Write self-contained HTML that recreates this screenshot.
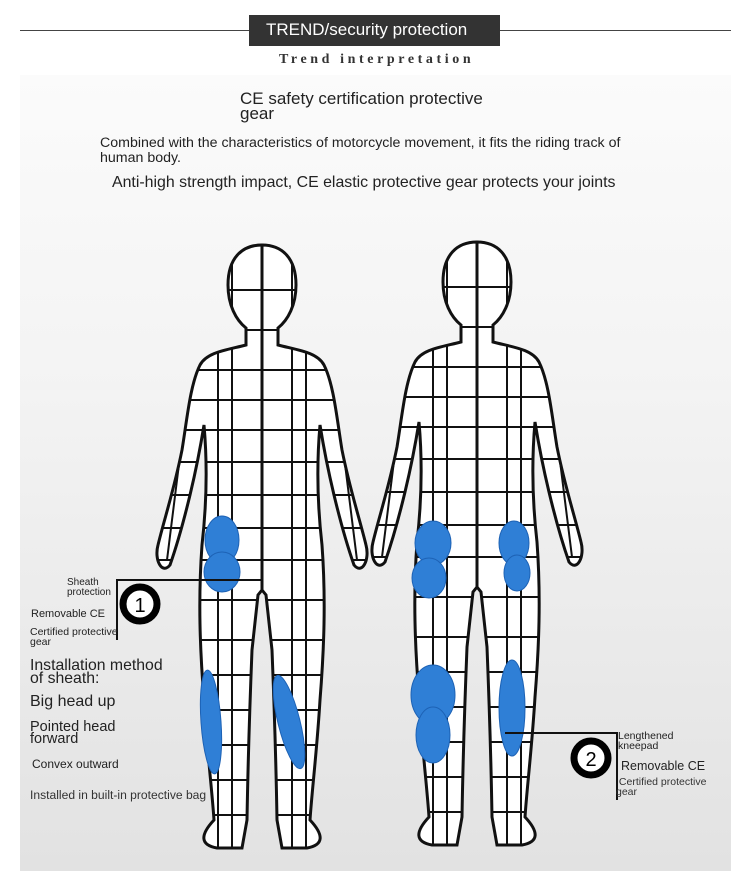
<!DOCTYPE html>
<html><head><meta charset="utf-8"><style>
html,body{margin:0;padding:0;background:#fff}
body{width:750px;height:871px;position:relative;overflow:hidden;font-family:"Liberation Sans",sans-serif;color:#222}
.panel{position:absolute;left:20px;top:75px;width:711px;height:796px;background:linear-gradient(#fbfbfb,#f3f3f3 40%,#e2e2e2)}
.t{position:absolute;white-space:nowrap;line-height:1}
</style></head><body>
<div style="position:absolute;left:20px;top:30px;width:711px;height:1px;background:#444"></div>
<div style="position:absolute;left:249px;top:15px;width:251px;height:31px;background:#333;color:#fff;font-size:17px;line-height:29px;padding-left:17px;box-sizing:border-box">TREND/security protection</div>
<div class="t" style="left:279px;top:53px;font-family:'Liberation Serif',serif;font-weight:bold;font-size:14px;letter-spacing:3.6px;color:#333">Trend interpretation</div>
<div class="panel"></div>
<div class="t" style="left:240px;top:91px;font-size:17px;line-height:15px">CE safety certification protective<br>gear</div>
<div class="t" style="left:100px;top:136px;font-size:14.2px;line-height:15px">Combined with the characteristics of motorcycle movement, it fits the riding track of<br>human body.</div>
<div class="t" style="left:112px;top:175px;font-size:15.9px">Anti-high strength impact, CE elastic protective gear protects your joints</div>

<svg width="750" height="871" style="position:absolute;left:0;top:0">
<defs>
<path id="half" d="M0 245 C-20 245 -34 258 -34 285 C-34 305 -26 320 -16 328 L-16 345 C-35 350 -55 352 -62 365 C-72 385 -75 420 -80 450 C-88 490 -98 520 -104 545 C-108 560 -100 575 -92 565 C-85 545 -78 520 -72 495 C-66 470 -62 450 -58 425 C-54 470 -56 510 -60 545 C-64 600 -62 650 -58 700 C-55 750 -50 790 -48 820 C-62 835 -62 845 -45 848 L-20 848 L-15 820 C-14 760 -12 700 -10 650 L-4 595 L0 590 Z"/>
<clipPath id="c"><use href="#half"/><use href="#half" transform="scale(-1,1)"/></clipPath>
<g id="fig">
<use href="#half" fill="#fff"/><use href="#half" fill="#fff" transform="scale(-1,1)"/>
<g clip-path="url(#c)" stroke="#111" stroke-width="2" fill="none">
<path d="M-110 290H110M-110 330H110M-110 370H110M-110 400H110M-110 430H110M-110 462H110M-110 495H110M-110 528H110M-110 560H110M-110 600H110M-110 640H110M-110 675H110M-110 710H110M-110 745H110M-110 780H110M-110 815H110"/>
<path d="M0 240V600M-30 240V850M30 240V850M-44 330V850M44 330V850M-70 360L-95 560M70 360L95 560"/>
</g>
<g stroke="#111" stroke-width="3" fill="none"><use href="#half"/><use href="#half" transform="scale(-1,1)"/></g>
</g>
</defs>
<use href="#fig" transform="translate(262,0)"/>
<use href="#fig" transform="translate(477,-3)"/>
<g fill="#2f7fd6" stroke="#1d62b5" stroke-width="1">
<ellipse cx="222" cy="540" rx="17" ry="24"/><ellipse cx="222" cy="572" rx="18" ry="20"/>
<ellipse cx="211" cy="722" rx="10" ry="52" transform="rotate(-4 211 722)"/>
<ellipse cx="289" cy="722" rx="11" ry="48" transform="rotate(-14 289 722)"/>
<ellipse cx="433" cy="543" rx="18" ry="22"/><ellipse cx="429" cy="578" rx="17" ry="20"/>
<ellipse cx="514" cy="543" rx="15" ry="22"/><ellipse cx="517" cy="573" rx="13" ry="18"/>
<ellipse cx="433" cy="695" rx="22" ry="30"/><ellipse cx="433" cy="735" rx="17" ry="28"/>
<ellipse cx="512" cy="708" rx="13" ry="48"/>
</g>
<g stroke="#111" stroke-width="2" fill="none">
<path d="M117 640V580H262"/>
<path d="M505 733H617V800"/>
</g>
<circle cx="140" cy="604" r="17" fill="#fff" stroke="#000" stroke-width="7"/>
<text x="140" y="612" font-family="Liberation Sans" font-size="20" text-anchor="middle" fill="#000">1</text>
<circle cx="591" cy="758" r="17" fill="#fff" stroke="#000" stroke-width="7"/>
<text x="591" y="766" font-family="Liberation Sans" font-size="20" text-anchor="middle" fill="#000">2</text>
</svg>

<div class="t" style="left:67px;top:578px;font-size:10px;line-height:10px">Sheath<br>protection</div>
<div class="t" style="left:31px;top:609px;font-size:11px">Removable CE</div>
<div class="t" style="left:30px;top:627px;font-size:10.5px;line-height:10px">Certified protective<br>gear</div>
<div class="t" style="left:30px;top:659px;font-size:15.8px;line-height:13px">Installation method<br>of sheath:</div>
<div class="t" style="left:30px;top:694px;font-size:16px">Big head up</div>
<div class="t" style="left:30px;top:721px;font-size:14.5px;line-height:12px">Pointed head<br>forward</div>
<div class="t" style="left:32px;top:758px;font-size:12px">Convex outward</div>
<div class="t" style="left:30px;top:789px;font-size:12.1px;color:#333">Installed in built-in protective bag</div>
<div class="t" style="left:618px;top:731px;font-size:10.5px;line-height:10px">Lengthened<br>kneepad</div>
<div class="t" style="left:621px;top:760px;font-size:12.5px">Removable CE</div>
<div class="t" style="left:616px;top:777px;font-size:10.5px;line-height:10px;color:#333">&nbsp;Certified protective<br>gear</div>
</body></html>
